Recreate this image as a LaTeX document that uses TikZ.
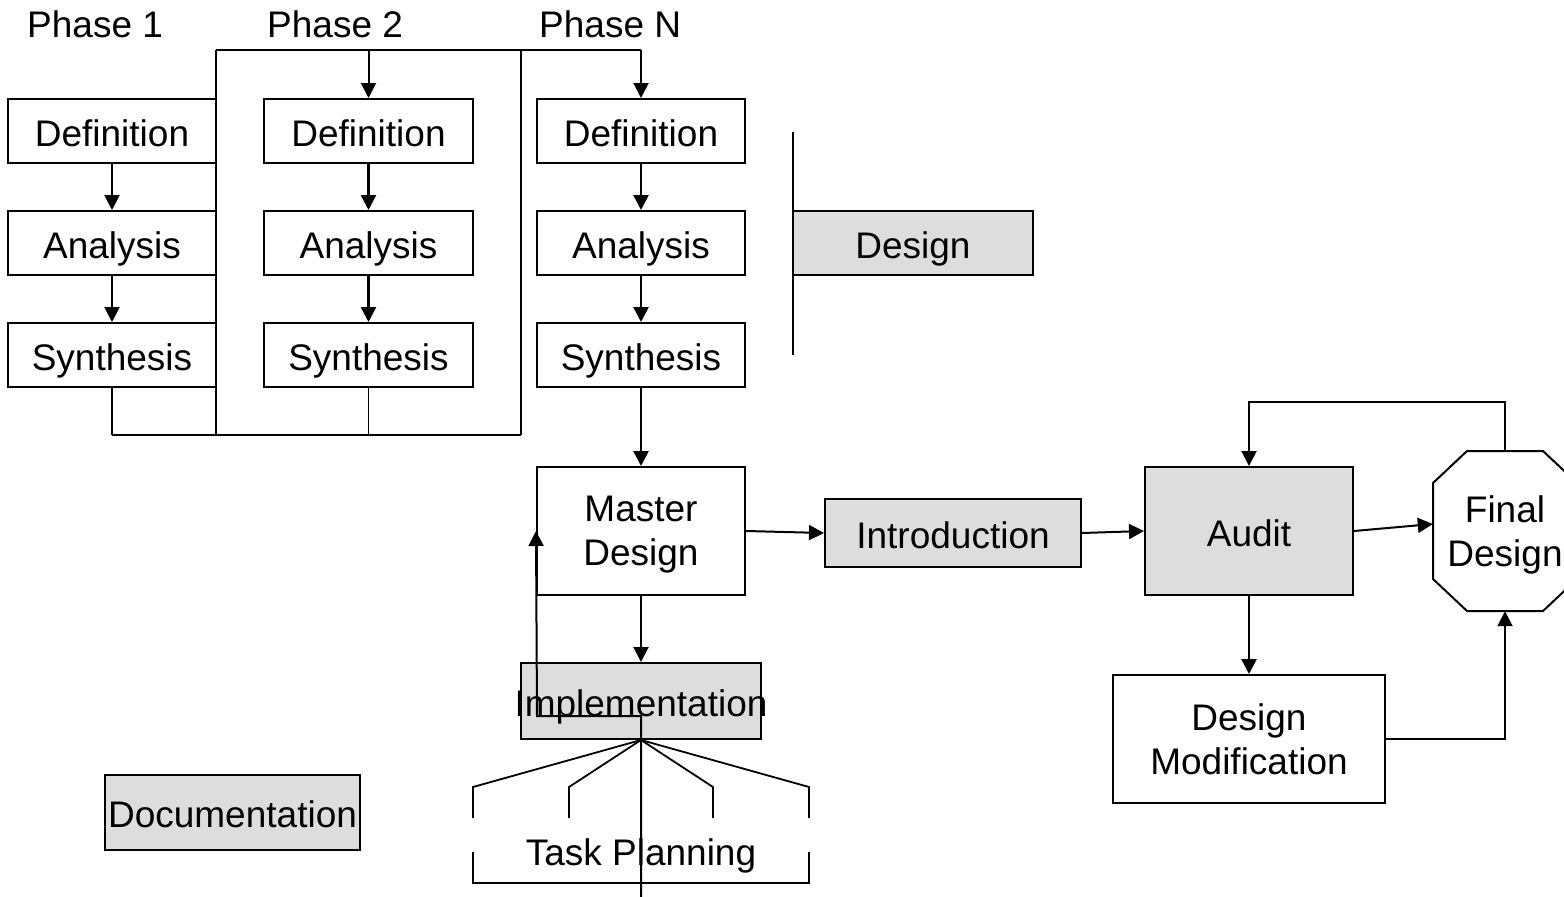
\documentclass[tikz,border=0pt]{standalone}
\usepackage{fontspec}
\setmainfont{Liberation Sans}
\usetikzlibrary{arrows.meta}
\definecolor{boxgray}{HTML}{DDDDDD}
\begin{document}
\begin{tikzpicture}[x=1pt,y=-1pt,
  txt/.style={inner sep=0pt,font=\fontsize{37}{44}\selectfont},
  box/.style={txt,draw,line width=2pt},
  one/.style={text height=30pt,text depth=0pt},
  two/.style={align=center,text depth=0pt},
  shaded/.style={fill=boxgray},
  arr/.style={line width=2.6pt,-{Triangle[length=15pt,width=15pt]}},
  larr/.style={line width=2pt,-{Triangle[length=15pt,width=15pt]}},
  wire/.style={line width=1.8pt}]
\useasboundingbox (0,0) rectangle (1564,897);
\fill[white] (0,0) rectangle (1564,897);

% phase labels
\node[txt,anchor=base west] (p1) at (27,37) {Phase 1};
\node[txt,anchor=base west] (p2) at (267,37) {Phase 2};
\node[txt,anchor=base west] (pN) at (539,37) {Phase N};

% phase columns
\node[box,one,minimum width=208pt,minimum height=64pt] (d1) at (112,131) {Definition};
\node[box,one,minimum width=208pt,minimum height=64pt] (a1) at (112,243) {Analysis};
\node[box,one,minimum width=208pt,minimum height=64pt] (s1) at (112,355) {Synthesis};
\node[box,one,minimum width=209pt,minimum height=64pt] (d2) at (368.5,131) {Definition};
\node[box,one,minimum width=209pt,minimum height=64pt] (a2) at (368.5,243) {Analysis};
\node[box,one,minimum width=209pt,minimum height=64pt] (s2) at (368.5,355) {Synthesis};
\node[box,one,minimum width=208pt,minimum height=64pt] (dN) at (641,131) {Definition};
\node[box,one,minimum width=208pt,minimum height=64pt] (aN) at (641,243) {Analysis};
\node[box,one,minimum width=208pt,minimum height=64pt] (sN) at (641,355) {Synthesis};

\node[box,one,shaded,minimum width=240pt,minimum height=64pt] (des) at (913,243) {Design};

\node[box,two,minimum width=208pt,minimum height=128pt] (md) at (641,531) {Master\\Design};
\node[box,one,shaded,minimum width=256pt,minimum height=68pt] (intro) at (953,533) {Introduction};
\node[box,one,shaded,minimum width=208pt,minimum height=128pt] (aud) at (1249,531) {Audit};
\node[box,two,minimum width=272pt,minimum height=128pt] (dm) at (1249,739) {Design\\Modification};
\draw[line width=2pt] (1467,451) -- (1543,451) -- (1577,483) -- (1577,579)
  -- (1543,611) -- (1467,611) -- (1433,579) -- (1433,483) -- cycle;
\node[txt,two,minimum width=144pt,minimum height=160pt] (fin) at (1505,531) {Final\\Design};

\node[box,one,shaded,minimum width=240pt,minimum height=76pt] (imp) at (641,701) {\makebox[0pt]{Implementation}};
\node[box,one,shaded,minimum width=255pt,minimum height=75pt] (doc) at (232.5,812.5) {\makebox[0pt]{Documentation}};
\node[txt,one] (tp) at (641,850) {Task Planning};

% column arrows
\draw[arr] (d1) -- (a1);
\draw[arr] (a1) -- (s1);
\draw[arr] (d2) -- (a2);
\draw[arr] (a2) -- (s2);
\draw[arr] (dN) -- (aN);
\draw[arr] (aN) -- (sN);

% phase frame
\coordinate (c1) at (216,50);
\coordinate (c2) at (216,435);
\coordinate (c3) at (521,50);
\coordinate (c4) at (521,435);
\coordinate (c5) at (641,50);
\coordinate (c6) at (368.5,50);
\coordinate (c7) at (112,435);
\coordinate (c8) at (368.5,435);
\draw[wire] (c1) -- (c5);
\draw[wire] (c1) -- (c2);
\draw[wire] (c3) -- (c4);
\draw[wire] (c7) -- (c4);
\draw[wire] (s1.south) -- (c7);
\draw[wire] (s2.south) -- (c8);
\draw[larr] (c6) -- (d2.north);
\draw[larr] (c5) -- (dN.north);

% design bar
\coordinate (dl1) at (793,132);
\coordinate (dl2) at (793,355);
\draw[line width=2pt] (dl1) -- (dl2);

% main flow
\draw[arr] (sN.south) -- (md.north);
\draw[larr] (md.east) -- (intro.west);
\draw[larr] (intro.east) -- (aud.west);
\draw[larr] (aud.east) -- ([yshift=7pt]fin.west);
\draw[arr] (aud.south) -- (dm.north);
\coordinate (lp1) at (1505,402);
\coordinate (lp2) at (1249,402);
\coordinate (lp3) at (1505,739);
\draw[larr] (fin.north) -- (lp1) -- (lp2) -- (aud.north);
\draw[larr] (dm.east) -- (lp3) -- (fin.south);
\draw[larr] (md.south) -- (imp.north);

% implementation feedback
\coordinate (ib) at (641,897);
\coordinate (ic) at (641,716);
\coordinate (id) at (537,716);
\draw[larr] (ib) -- (ic) -- (id) -- (md.west);

% task fan
\coordinate (f1) at (473,787);
\coordinate (f2) at (569,787);
\coordinate (f3) at (713,787);
\coordinate (f4) at (809,787);
\coordinate (g1) at (473,818);
\coordinate (g2) at (569,818);
\coordinate (g3) at (713,818);
\coordinate (g4) at (809,818);
\draw[wire] (imp.south) -- (f1) -- (g1);
\draw[wire] (imp.south) -- (f2) -- (g2);
\draw[wire] (imp.south) -- (f3) -- (g3);
\draw[wire] (imp.south) -- (f4) -- (g4);
\coordinate (h1) at (473,852);
\coordinate (h2) at (473,883);
\coordinate (h3) at (809,883);
\coordinate (h4) at (809,852);
\draw[wire] (h1) -- (h2) -- (h3) -- (h4);
\end{tikzpicture}
\end{document}
